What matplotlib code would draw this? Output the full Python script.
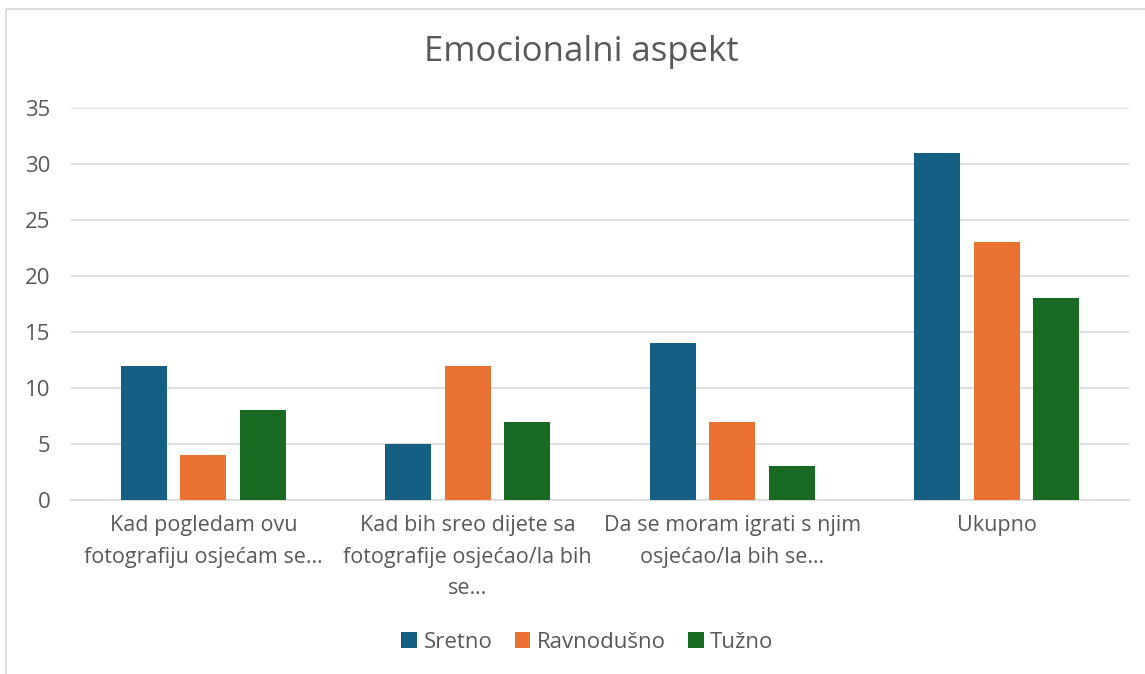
import numpy as np
import matplotlib.pyplot as plt
from matplotlib.patches import Rectangle

plt.rcParams['font.family'] = ['Open Sans', 'DejaVu Sans']

categories = ['Kad pogledam ovu\nfotografiju osjećam se…',
              'Kad bih sreo dijete sa\nfotografije osjećao/la bih\nse…',
              'Da se moram igrati s njim\nosjećao/la bih se…',
              'Ukupno']
series = ['Sretno', 'Ravnodušno', 'Tužno']
sretno = [12, 5, 14, 31]
ravnodusno = [4, 12, 7, 23]
tuzno = [8, 7, 3, 18]
yticks = [0, 5, 10, 15, 20, 25, 30, 35]

colors = ['#156082', '#E97132', '#196B24']
textcol = '#595959'

fig = plt.figure(figsize=(11.45, 6.74), dpi=100)
ax = fig.add_axes([71/1145, 1 - 500/674, (1129-71)/1145, (500-108)/674])

# chart border (right and bottom edges are cut off in the reference)
fig.patches.append(Rectangle((6/1145, -0.1), 1.2, 1 - 9/674 + 0.1,
                             transform=fig.transFigure, fill=False,
                             edgecolor='#d9d9d9', linewidth=1.2))

x = np.arange(len(categories))
w = 0.174
step = 0.225
for i, (vals, name) in enumerate(zip([sretno, ravnodusno, tuzno], series)):
    ax.bar(x + (i - 1) * step, vals, w, color=colors[i], label=name, zorder=3)

ax.set_xlim(-0.5, len(categories) - 0.5)
ax.set_ylim(0, 35)
ax.set_yticks(yticks)
ax.set_xticks(x)
ax.set_xticklabels(categories, linespacing=1.65)
ax.grid(axis='y', color='#d9d9d9', linewidth=1.2, zorder=0)
for s in ['top', 'right', 'left']:
    ax.spines[s].set_visible(False)
ax.spines['bottom'].set_color('#d9d9d9')
ax.spines['bottom'].set_linewidth(1.2)
ax.tick_params(axis='x', length=0, pad=11, labelsize=15.5, labelcolor=textcol)
ax.tick_params(axis='y', length=0, pad=15, labelsize=16, labelcolor=textcol)

fig.text(0.508, 1 - 52/674, 'Emocionalni aspekt', ha='center', va='center',
         fontsize=25, color=textcol)

fig.legend(loc='center', bbox_to_anchor=(0.513, 1 - 642/674), ncol=3,
           frameon=False, fontsize=16, handlelength=0.7, handleheight=0.7,
           handletextpad=0.3, columnspacing=1.0, labelcolor=textcol)

fig.savefig('out.png', dpi=100)
